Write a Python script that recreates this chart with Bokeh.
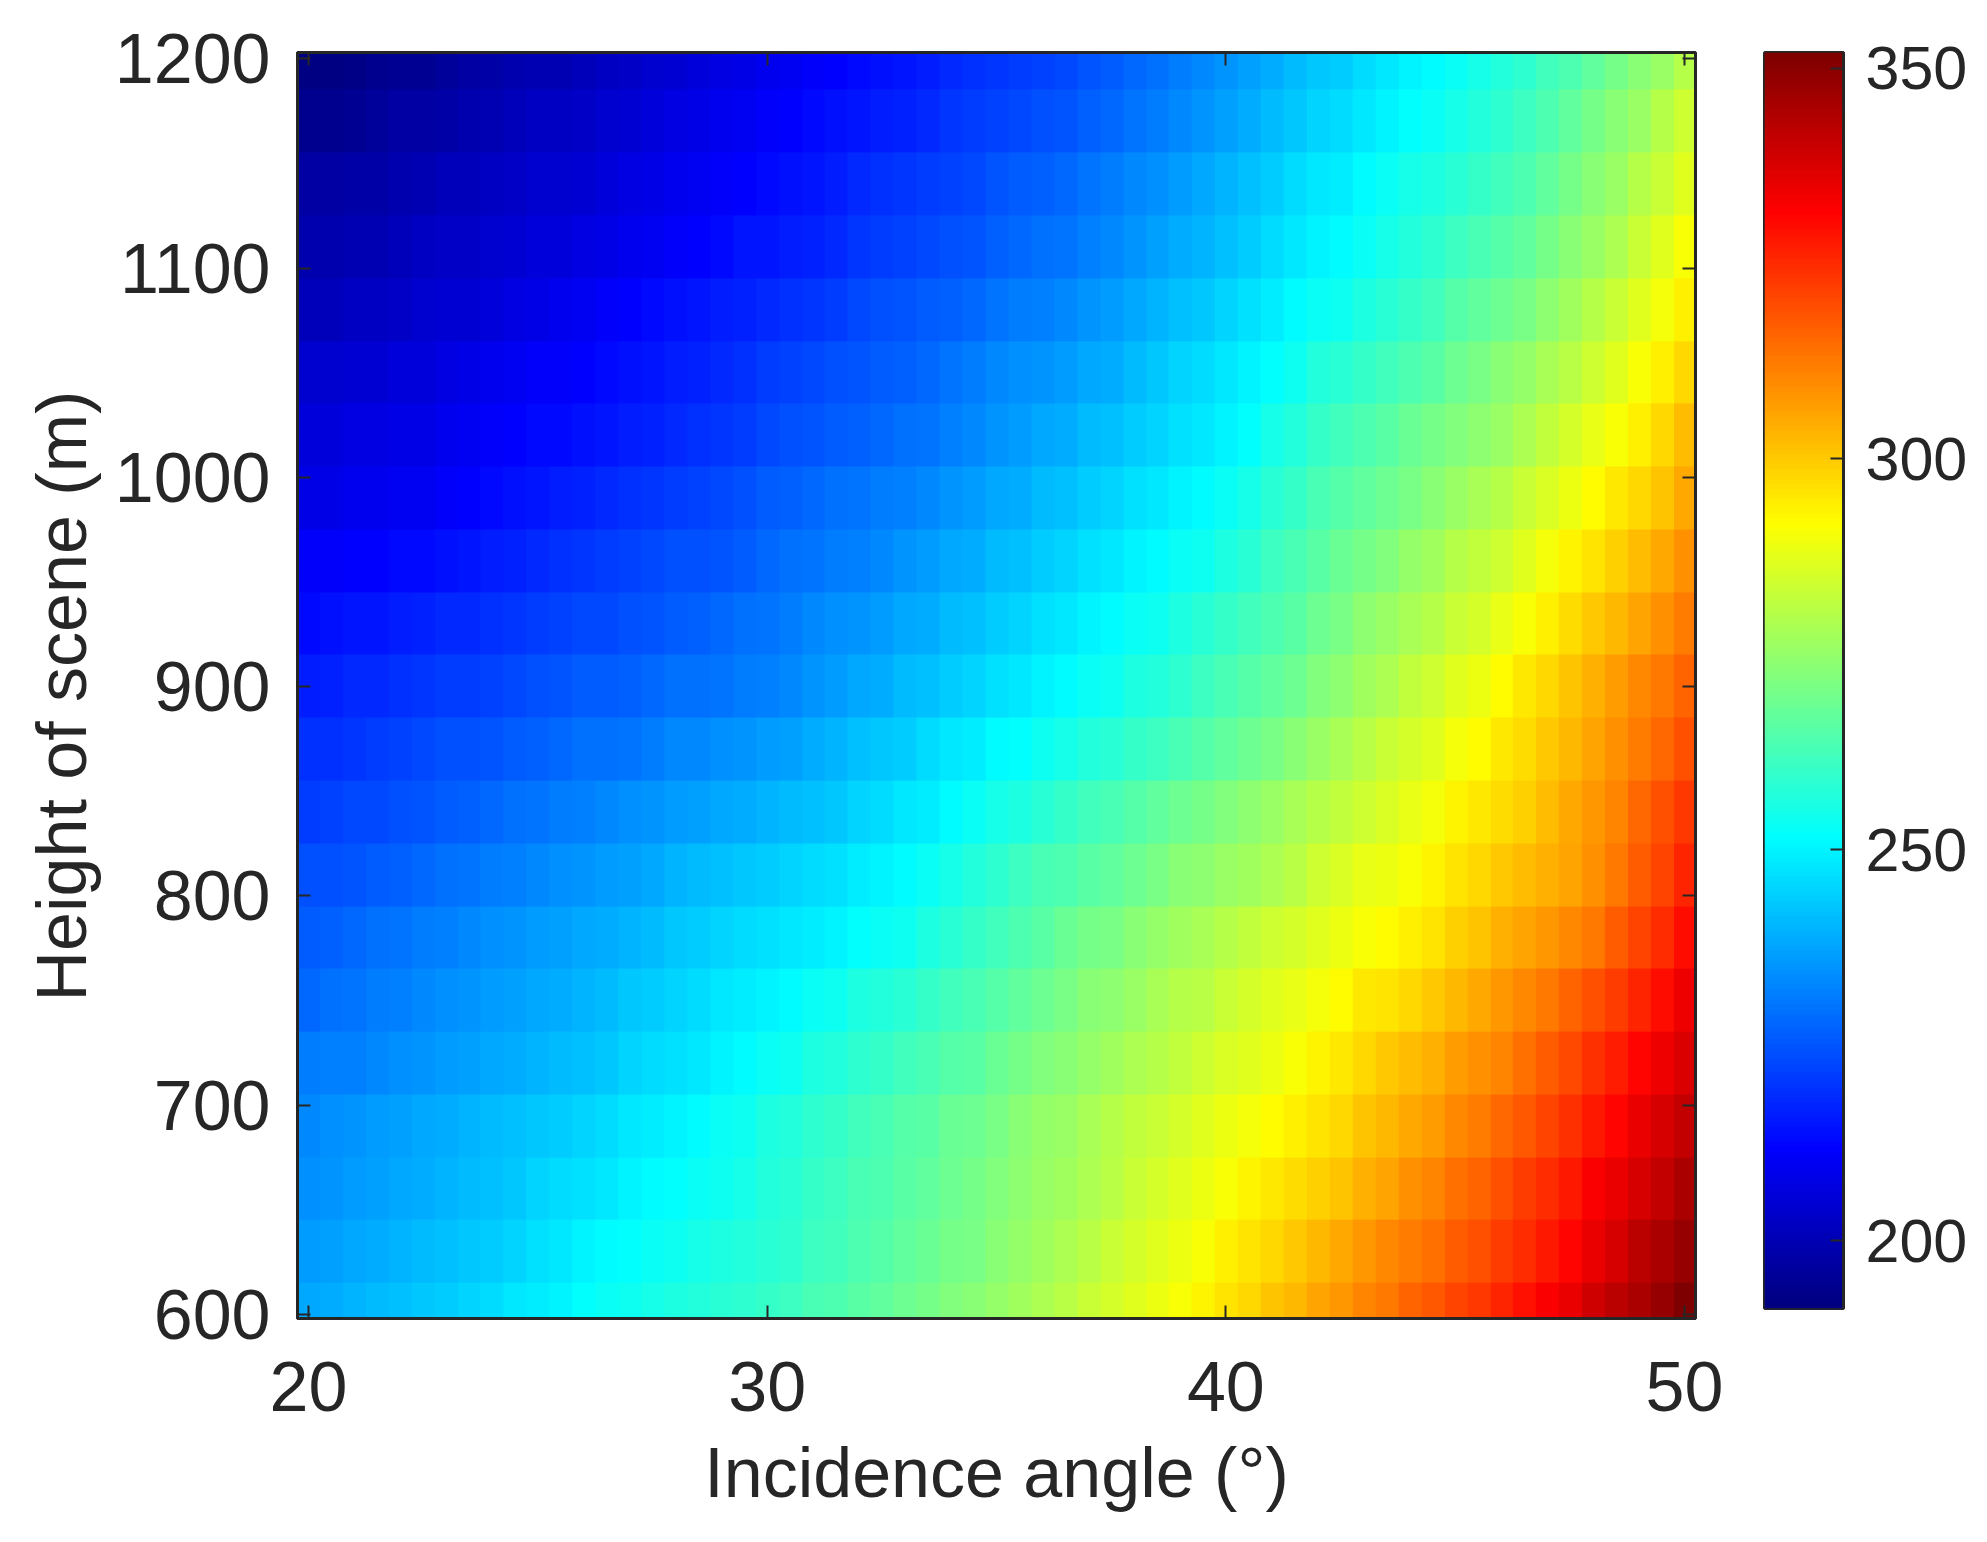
import numpy as np
from bokeh.embed import file_html
from bokeh.resources import INLINE
from bokeh.layouts import row
from bokeh.models import FixedTicker, LinearAxis, LinearColorMapper, Range1d, Title
from bokeh.plotting import figure

# Values estimated by eye from the reference colours: one list per scene height,
# one entry per incidence angle 20, 20.5, ... 50 degrees.
h600 = [238,239,240,241,242,243,244,245,246,248,249,250,252,253,254,255,256,257,258,259,260,261,263,264,266,267,269,270,272,273,275,277,279,281,283,285,287,289,291,293,296,298,301,303,306,308,311,313,316,318,321,323,326,329,332,335,339,342,345,348,352]
h630 = [236,237,238,239,240,241,242,243,244,245,247,248,250,251,252,253,254,255,256,257,258,259,261,262,264,265,267,268,270,271,273,275,277,279,281,283,285,287,289,291,294,296,298,300,303,305,308,310,312,314,317,319,322,325,328,331,335,338,342,345,348]
h660 = [234,235,236,237,238,239,240,241,242,243,245,246,247,248,250,251,252,253,254,255,257,258,260,261,263,264,266,267,269,270,272,274,276,277,279,281,283,285,287,289,291,293,295,297,299,301,304,306,309,311,314,316,319,322,325,328,332,335,338,341,345]
h690 = [233,234,235,236,237,238,239,240,241,242,243,244,245,246,248,249,250,251,253,254,256,257,259,260,262,263,265,266,268,269,271,273,275,276,278,280,282,283,285,287,289,290,292,294,296,298,301,303,305,307,310,312,315,318,321,324,328,331,335,338,341]
h720 = [231,232,232,233,234,235,236,237,238,239,240,241,242,243,245,246,247,248,250,251,253,254,256,257,259,260,262,263,265,266,268,270,272,273,275,277,279,280,282,284,286,287,289,291,293,295,298,300,302,304,307,309,311,314,317,320,324,327,331,334,337]
h750 = [228,229,230,231,232,233,234,235,236,237,238,239,240,241,243,244,245,246,248,249,250,251,253,254,256,257,258,260,262,263,265,267,269,271,273,274,276,278,280,281,283,285,287,288,290,292,295,296,298,300,303,305,308,310,313,316,319,322,326,330,334]
h780 = [226,227,228,229,230,231,232,233,234,235,236,237,238,239,240,241,243,244,245,246,247,248,249,250,252,253,254,256,258,260,262,264,266,268,270,271,273,275,277,278,280,282,284,285,287,289,291,292,294,296,299,301,304,306,308,310,313,317,321,325,330]
h810 = [224,224,225,226,227,228,229,230,231,232,233,234,235,236,237,238,240,241,242,243,244,245,246,247,249,250,251,253,255,257,259,261,263,264,266,267,269,271,273,274,276,277,279,281,284,286,288,289,291,293,296,298,300,302,304,306,309,313,317,321,326]
h840 = [221,222,223,223,224,225,226,227,228,229,230,231,232,233,234,235,236,237,238,239,240,241,242,243,245,246,248,249,251,253,255,256,258,260,262,263,265,267,269,270,272,274,276,278,280,282,284,286,288,290,293,295,297,299,302,305,308,311,315,319,323]
h870 = [219,219,220,221,222,223,224,224,225,226,227,228,229,229,230,231,233,233,234,235,236,237,239,240,242,243,244,246,248,249,251,252,254,255,257,258,260,261,263,265,267,269,271,273,276,278,281,283,285,287,290,292,295,297,300,303,306,309,312,315,319]
h900 = [216,217,218,218,219,220,221,221,222,223,224,225,226,226,227,228,229,229,230,231,232,233,235,236,238,239,241,242,244,245,247,248,250,251,253,254,256,257,259,261,263,265,267,269,272,274,277,279,282,284,287,289,292,295,298,301,304,307,310,313,316]
h930 = [213,214,215,215,216,217,218,218,219,220,221,222,223,223,224,225,226,227,228,229,230,231,233,234,235,236,238,239,241,242,244,245,247,248,250,251,253,254,256,258,260,262,264,266,269,271,274,276,278,280,283,285,288,291,294,297,300,303,306,309,312]
h960 = [211,211,212,212,213,213,214,215,216,217,218,219,220,221,222,223,224,224,225,226,228,229,230,231,232,233,235,236,238,239,241,242,244,245,247,248,250,251,253,254,256,258,261,263,266,268,270,272,275,277,280,282,284,287,290,293,296,299,302,305,309]
h990 = [208,208,209,209,210,210,211,212,213,214,215,216,217,218,219,220,221,222,223,224,226,227,228,229,230,231,232,233,235,236,238,239,241,242,244,245,247,248,250,251,253,255,258,260,263,265,267,269,271,273,276,278,280,283,286,289,292,295,298,301,305]
h1020 = [206,206,207,207,208,208,209,210,211,212,213,213,214,215,216,217,218,219,220,221,223,224,225,226,227,228,229,230,232,233,235,236,238,239,241,242,244,245,247,248,250,252,255,257,260,262,264,266,268,270,272,274,276,279,282,285,288,291,294,298,302]
h1050 = [204,204,205,205,206,206,207,208,209,210,211,211,212,213,214,215,216,217,218,219,221,222,223,224,225,226,227,228,230,231,233,234,235,236,238,239,241,243,245,246,248,250,252,254,257,258,260,262,264,266,269,271,273,275,278,281,284,287,291,294,298]
h1080 = [201,201,202,202,203,204,205,205,206,207,208,209,210,211,212,213,214,215,216,217,218,219,220,221,223,224,225,226,227,228,230,231,232,233,235,236,238,240,242,243,245,247,249,251,253,254,256,258,260,262,265,267,269,271,274,277,280,283,287,290,294]
h1110 = [199,199,200,200,201,202,203,203,204,205,206,206,207,208,209,210,211,212,213,215,215,216,217,218,220,221,222,223,224,225,227,228,229,230,232,233,235,237,239,240,242,244,246,248,250,251,253,255,257,259,261,263,265,267,270,273,276,279,283,287,291]
h1140 = [197,197,198,198,199,200,201,201,202,203,204,204,205,206,207,208,209,210,211,212,213,214,215,216,218,219,220,221,222,223,225,226,227,228,230,231,233,234,236,238,240,242,244,246,248,249,251,253,255,256,258,260,262,264,267,270,273,276,280,283,287]
h1170 = [194,194,195,196,197,197,198,199,200,201,202,202,203,204,205,206,207,208,209,210,211,212,213,214,215,216,217,218,220,221,222,223,224,225,227,228,230,231,233,235,237,239,241,243,245,246,248,250,252,253,255,257,259,261,264,267,270,273,276,280,284]
h1200 = [192,192,193,194,195,195,196,197,198,199,200,200,201,202,203,204,205,206,207,208,209,210,211,212,213,214,215,216,218,219,220,221,222,223,225,226,228,229,231,233,235,237,239,241,243,244,246,248,250,251,253,255,257,259,262,264,267,270,273,276,280]

heights = [600, 630, 660, 690, 720, 750, 780, 810, 840, 870, 900, 930, 960, 990, 1020, 1050, 1080, 1110, 1140, 1170, 1200]
angles = [20 + 0.5 * i for i in range(61)]
x_ticks = [20, 30, 40, 50]
y_ticks = [600, 700, 800, 900, 1000, 1100, 1200]
cbar_ticks = [200, 250, 300, 350]
x_label = "Incidence angle (°)"
y_label = "Height of scene (m)"

field = np.array([h600, h630, h660, h690, h720, h750, h780, h810, h840, h870, h900,
                  h930, h960, h990, h1020, h1050, h1080, h1110, h1140, h1170, h1200], dtype=float)

VMIN, VMAX = 191.3, 352.0
INK = "#262626"
FONT = "Liberation Sans"
FS = "70px"


def jet(n=256):
    out = []
    for i in range(n):
        t = i / (n - 1)
        r = np.clip(min(4 * t - 1.5, -4 * t + 4.5), 0, 1)
        g = np.clip(min(4 * t - 0.5, -4 * t + 3.5), 0, 1)
        b = np.clip(min(4 * t + 0.5, -4 * t + 2.5), 0, 1)
        out.append("#%02x%02x%02x" % (int(r * 255), int(g * 255), int(b * 255)))
    return out


mapper = LinearColorMapper(palette=jet(), low=VMIN, high=VMAX)


def style_axis(ax, labels=True):
    ax.major_tick_in = 13
    ax.major_tick_out = 0
    ax.minor_tick_in = 0
    ax.minor_tick_out = 0
    ax.major_tick_line_color = INK
    ax.major_tick_line_width = 2
    ax.axis_line_color = INK
    ax.axis_line_width = 3
    if labels:
        ax.major_label_text_font = FONT
        ax.major_label_text_font_size = FS
        ax.major_label_text_color = INK
    else:
        ax.major_label_text_font_size = "0px"
        ax.major_label_text_color = None


p = figure(output_backend="svg", toolbar_location=None,
           frame_width=1398, frame_height=1266,
           min_border_left=297, min_border_top=52, min_border_right=30, min_border_bottom=206,
           x_range=Range1d(19.76, 50.24), y_range=Range1d(598, 1203),
           x_axis_label=x_label)
p.grid.visible = False
p.outline_line_color = INK
p.outline_line_width = 3
half_w = (angles[1] - angles[0]) / 2
half_h = (heights[1] - heights[0]) / 2
p.image(image=[field], x=angles[0] - half_w, y=heights[0] - half_h,
        dw=angles[-1] - angles[0] + 2 * half_w, dh=heights[-1] - heights[0] + 2 * half_h,
        color_mapper=mapper)
p.xaxis.ticker = FixedTicker(ticks=x_ticks)
p.yaxis.ticker = FixedTicker(ticks=y_ticks)
for ax in [p.xaxis[0], p.yaxis[0]]:
    style_axis(ax)
    ax.major_label_standoff = 27
p.xaxis[0].major_label_standoff = 43
x_ax = p.xaxis[0]
x_ax.axis_label_text_font = FONT
x_ax.axis_label_text_font_size = FS
x_ax.axis_label_text_font_style = "normal"
x_ax.axis_label_text_color = INK
x_ax.axis_label_standoff = 20
p.add_layout(Title(text=y_label, align="left", offset=317, standoff=21, text_font=FONT,
                   text_font_size=FS, text_font_style="normal", text_color=INK), "left")
top = LinearAxis(ticker=FixedTicker(ticks=x_ticks))
right = LinearAxis(ticker=FixedTicker(ticks=y_ticks))
style_axis(top, labels=False)
style_axis(right, labels=False)
p.add_layout(top, "above")
p.add_layout(right, "right")

levels = np.linspace(VMIN, VMAX, 256).reshape(-1, 1)
c = figure(output_backend="svg", toolbar_location=None,
           frame_width=79, frame_height=1256,
           min_border_left=39, min_border_top=52, min_border_right=130, min_border_bottom=10,
           x_range=Range1d(0, 1), y_range=Range1d(VMIN, VMAX),
           x_axis_location=None, y_axis_location="right")
c.grid.visible = False
c.outline_line_color = INK
c.outline_line_width = 3
c.image(image=[levels], x=0, y=VMIN, dw=1, dh=VMAX - VMIN, color_mapper=mapper)
c.yaxis.ticker = FixedTicker(ticks=cbar_ticks)
style_axis(c.yaxis[0])
c.yaxis[0].major_label_text_font_size = "61px"
c.yaxis[0].major_label_standoff = 22

layout = row(p, c, spacing=0)
open("out.html", "w").write(file_html(layout, INLINE))
